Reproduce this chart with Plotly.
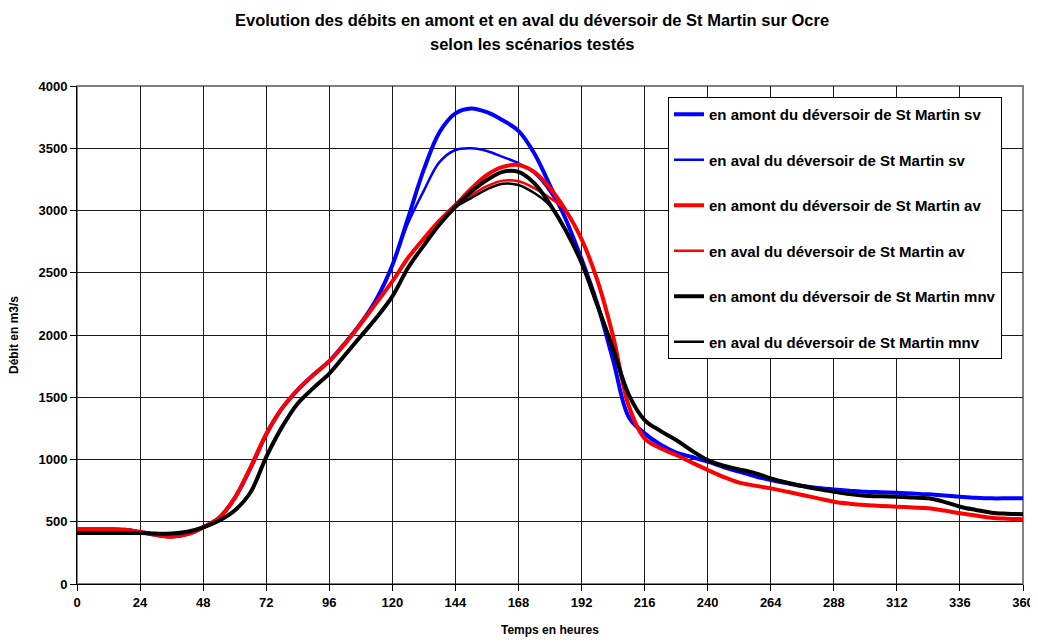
import plotly.graph_objects as go

TIME = list(range(0, 361, 6))

sv_amont = [440, 440, 440, 435, 418, 395, 382, 400, 455, 530, 690, 930, 1200, 1410, 1560, 1680, 1790, 1935, 2095, 2290,
            2560, 2940, 3330, 3630, 3780, 3820, 3790, 3725, 3640, 3460, 3200, 2930, 2610, 2250, 1800, 1340, 1210, 1120, 1055, 1020,
            983, 940, 902, 865, 835, 810, 787, 772, 760, 750, 741, 737, 733, 727, 720, 710, 701, 693, 688, 688, 688]
sv_aval = [440, 440, 440, 435, 418, 395, 382, 400, 455, 530, 690, 930, 1200, 1410, 1560, 1680, 1790, 1935, 2095, 2290,
           2560, 2900, 3160, 3390, 3486, 3500, 3478, 3430, 3379, 3300, 3150, 2930, 2610, 2250, 1800, 1340, 1210, 1120, 1055, 1020,
           983, 940, 902, 865, 835, 810, 787, 772, 760, 750, 741, 737, 733, 727, 720, 710, 701, 693, 688, 688, 688]
av_amont = [440, 440, 440, 435, 418, 395, 380, 400, 455, 530, 690, 935, 1205, 1411, 1560, 1680, 1790, 1930, 2090, 2260,
            2430, 2620, 2775, 2920, 3044, 3175, 3285, 3350, 3365, 3310, 3180, 3000, 2770, 2440, 1990, 1430, 1170, 1090, 1036, 975,
            916, 860, 814, 790, 768, 742, 715, 688, 661, 645, 634, 627, 621, 615, 608, 590, 568, 550, 533, 525, 520]
av_aval = [440, 440, 440, 435, 418, 395, 380, 400, 455, 530, 690, 935, 1205, 1411, 1560, 1680, 1790, 1930, 2090, 2260,
           2430, 2620, 2775, 2920, 3040, 3120, 3195, 3240, 3235, 3180, 3100, 3000, 2770, 2440, 1990, 1430, 1170, 1090, 1036, 975,
           916, 860, 814, 790, 768, 742, 715, 688, 661, 645, 634, 627, 621, 615, 608, 590, 568, 550, 533, 525, 520]
mnv_amont = [410, 410, 410, 410, 410, 405, 405, 420, 455, 508, 590, 735, 1020, 1260, 1450, 1575, 1690, 1840, 1990, 2140,
             2310, 2540, 2720, 2890, 3030, 3150, 3245, 3310, 3310, 3220, 3050, 2840, 2580, 2240, 1890, 1520, 1317, 1230, 1157, 1070,
             996, 950, 921, 890, 849, 815, 787, 762, 741, 722, 709, 704, 701, 695, 688, 660, 621, 595, 573, 565, 560]
mnv_aval = [410, 410, 410, 410, 410, 405, 405, 420, 455, 508, 590, 735, 1020, 1260, 1450, 1575, 1690, 1840, 1990, 2140,
            2310, 2540, 2720, 2890, 3025, 3100, 3170, 3215, 3205, 3140, 3040, 2840, 2580, 2240, 1890, 1520, 1317, 1230, 1157, 1070,
            996, 950, 921, 890, 849, 815, 787, 762, 741, 722, 709, 704, 701, 695, 688, 660, 621, 595, 573, 565, 560]

NAMES = ["en amont du déversoir de St Martin sv",
         "en aval du déversoir de St Martin sv",
         "en amont du déversoir de St Martin av",
         "en aval du déversoir de St Martin av",
         "en amont du déversoir de St Martin mnv",
         "en aval du déversoir de St Martin mnv"]
SERIES = [sv_amont, sv_aval, av_amont, av_aval, mnv_amont, mnv_aval]
COLORS = ["#0000FF", "#0000FF", "#FF0000", "#FF0000", "#000000", "#000000"]
WIDTHS = [4, 2.5, 4, 2.5, 4, 2.5]
X_TICKS = list(range(0, 361, 24))
Y_TICKS = list(range(0, 4001, 500))
TITLE_LINES = ["Evolution des débits en amont et en aval du déversoir de St Martin sur Ocre",
               "selon les scénarios testés"]

FONT = "Liberation Sans, Arial, sans-serif"
# page is rendered with an 8px body margin -> figure coords = page coords - 8
OFF = 8
W, H = 1038 - OFF, 642 - OFF
PL, PR, PT = 77 - OFF, 15, 86 - OFF
PB = H - (584 - OFF)
PW, PH = W - PL - PR, H - PT - PB

fig = go.Figure()
for i, (name, ys, col, w) in enumerate(zip(NAMES, SERIES, COLORS, WIDTHS)):
    fig.add_trace(go.Scatter(x=TIME, y=ys, mode="lines", name=f"<b>{name}</b>", legendgroup=f"g{i}",
                             hoverinfo="skip",
                             line=dict(color=col, width=w, shape="spline", smoothing=1.0)))


def py(page_y):
    """page y pixel -> paper y"""
    return (H - PB - (page_y - OFF)) / PH


def px(page_x):
    return ((page_x - OFF) - PL) / PW


annotations = [
    dict(text=f"<b>{TITLE_LINES[0]}</b>", xref="paper", yref="paper", x=px(532), y=py(20),
         xanchor="center", yanchor="middle", showarrow=False, font=dict(size=16.5, family=FONT)),
    dict(text=f"<b>{TITLE_LINES[1]}</b>", xref="paper", yref="paper", x=px(532), y=py(44),
         xanchor="center", yanchor="middle", showarrow=False, font=dict(size=16.5, family=FONT)),
    dict(text="<b>Temps en heures</b>", xref="paper", yref="paper", x=0.5, y=py(630),
         xanchor="center", yanchor="middle", showarrow=False, font=dict(size=12, family=FONT)),
    dict(text="<b>Débit en m3/s</b>", xref="paper", yref="paper", x=px(14), y=0.5,
         xanchor="center", yanchor="middle", textangle=-90, showarrow=False, font=dict(size=12, family=FONT)),
]

fig.update_layout(
    width=W, height=H,
    paper_bgcolor="white", plot_bgcolor="white",
    margin=dict(l=PL, r=PR, t=PT, b=PB, autoexpand=False),
    font=dict(family=FONT, color="black", size=13),
    xaxis=dict(range=[0, 360], tickvals=X_TICKS, ticktext=[f"<b>{v}</b>" for v in X_TICKS],
               showgrid=True, gridcolor="#1a1a1a", gridwidth=1, automargin=False,
               ticks="outside", ticklen=6, tickcolor="black", ticklabeloverflow="allow",
               showline=True, linecolor="black", linewidth=1, zeroline=False),
    yaxis=dict(range=[0, 4000], tickvals=Y_TICKS, ticktext=[f"<b>{v}</b>" for v in Y_TICKS],
               showgrid=True, gridcolor="#1a1a1a", gridwidth=1, automargin=False,
               ticks="outside", ticklen=6, tickcolor="black", ticklabeloverflow="allow",
               showline=True, linecolor="black", linewidth=1, zeroline=False),
    legend=dict(x=px(668), y=py(97), xanchor="left", yanchor="top",
                bgcolor="white", bordercolor="black", borderwidth=1,
                font=dict(size=15, family=FONT, color="black"),
                traceorder="grouped", tracegroupgap=23, itemwidth=30),
    showlegend=True,
    annotations=annotations,
)
fig.add_shape(type="rect", xref="paper", yref="paper", x0=0, y0=0, x1=1, y1=1,
              line=dict(color="#808080", width=2), layer="below")
fig.write_html("out.html")
